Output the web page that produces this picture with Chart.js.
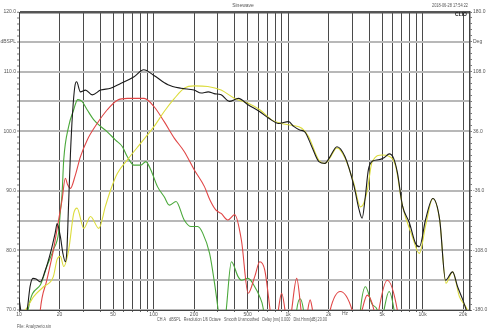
<!DOCTYPE html>
<html><head><meta charset="utf-8">
<script src="https://cdn.jsdelivr.net/npm/chart.js@4.4.1/dist/chart.umd.min.js"></script>
<style>html,body{margin:0;padding:0;background:#fff;overflow:hidden}#wrap{position:relative;width:488px;height:333px}</style>
</head><body><div id="wrap"><canvas id="c" width="488" height="333"></canvas></div>
<script>
// ---- data (frequency in Hz, level in dB SPL) ----
const blackF = [10, 10.3, 10.8, 11.5, 12.1, 12.7, 13.4, 14.4, 15.6, 17.1, 18.6, 19.2, 20.3, 21.2, 22.1, 22.7, 23.3, 24.1, 25.0, 26.0, 26.8, 28.6, 31.2, 35, 40.4, 47.9, 56.9, 71.2, 84.6, 100, 128, 160, 200, 226, 255, 282, 318, 366, 427, 507, 613, 716, 851, 1009, 1101, 1221, 1331, 1501, 1693, 1879, 2047, 2308, 2650, 3096, 3374, 3550, 3750, 3950, 4250, 4700, 5200, 5650, 6100, 6500, 7080, 7980, 8850, 9480, 10500, 11900, 13400, 14800, 16700, 18200, 19900, 20900, 22500];
const blackDb = [72, 70, 67.5, 70, 74, 75.3, 75.2, 74.7, 76.5, 79.5, 83, 84.5, 82.3, 79.5, 78.1, 80, 87, 96, 103, 107.5, 108.3, 106.6, 106.9, 106.1, 106.9, 107.2, 108.0, 109.1, 110.3, 109.4, 107.8, 107.2, 106.9, 106.4, 106.6, 106.3, 106.1, 105.0, 105.5, 104.4, 103.3, 102.2, 101.3, 101.6, 100.8, 100.2, 99.9, 97.4, 94.9, 94.6, 95.7, 97.4, 95.7, 90.7, 86.8, 85.4, 89, 93.5, 95, 95.2, 95.6, 96.2, 95.4, 93, 87.5, 84.6, 81.2, 80.6, 85.1, 88.7, 85.1, 75, 76.4, 73.9, 71.7, 70.3, 68];

const redF = [14.0, 14.4, 16.1, 18.0, 19.7, 20.9, 22.1, 23.0, 24.1, 26.2, 28.6, 32.1, 38.1, 45.3, 53.8, 63.9, 85.1, 101, 120, 143, 169, 201, 239, 262, 290, 318, 357, 401, 450, 505, 565, 616, 671, 732, 780, 846, 895, 948, 1000, 1064, 1159, 1248, 1320, 1401, 1459, 1520, 1800, 2056, 2443, 2990, 3250, 3550, 3873, 4345, 4550, 4731, 5458, 6486, 7000];
const redDb = [66, 70, 75, 80, 85.1, 88.5, 92.1, 91, 90.4, 92.6, 95.7, 98.5, 101.3, 103.6, 105.2, 105.5, 105.5, 104.1, 101.6, 98.8, 96.6, 93.5, 90.7, 88.5, 86.8, 86.2, 85.1, 86, 81.7, 72.8, 75.6, 78.1, 76.7, 70.3, 65, 70, 72.8, 70, 65, 70, 75.3, 70, 65, 70, 71.7, 70, 62, 70, 73.1, 70, 66, 70, 72.5, 70, 67, 70, 75, 70, 64];

const greenF = [11.4, 11.7, 14.4, 16.1, 18.0, 19.7, 20.3, 20.9, 21.5, 23.4, 25.5, 27.3, 29.4, 32.1, 36, 40.4, 45.3, 52.2, 58.7, 63.9, 71.6, 80.4, 87.6, 95.5, 107, 120, 131, 147, 169, 190, 213, 232, 261, 284, 301, 325, 347, 379, 425, 450, 505, 565, 616, 653, 690, 1100, 1159, 1228, 1301, 1380, 3300, 3450, 3760, 4200, 4603, 4900, 5164, 5626, 6136, 6600];
const greenDb = [66, 70, 74.2, 77.3, 80.1, 83, 86.5, 89.5, 95.2, 100.8, 103.6, 105.3, 105, 103.6, 101.9, 100.8, 99.9, 98.5, 97.4, 95.7, 94.3, 94.3, 94.9, 93.5, 90.7, 89, 87.6, 88.2, 85.1, 84, 84, 82.9, 79.5, 74.5, 70.3, 64, 70, 78.1, 75.6, 75, 75.3, 73.9, 72.2, 70.3, 65, 64, 70, 71.9, 70, 64, 64, 70, 73.9, 71, 70, 67, 70, 73.1, 70, 64];

const yellowF = [10, 11.4, 12.8, 15.2, 18.0, 19.2, 20.3, 21.5, 23.4, 25.5, 27.0, 30.3, 34.0, 39.2, 44.0, 47.9, 53.8, 63.9, 80.4, 101, 120, 143, 169, 201, 253, 318, 401, 505, 616, 754, 895, 1064, 1265, 1419, 1686, 1879, 2047, 2308, 2650, 3077, 3450, 3600, 3873, 4220, 5012, 5626, 6310, 7080, 8398, 9440, 10600, 11900, 13400, 14900, 16700, 18800, 21000, 22500];
const yellowDb = [69, 70.3, 72.2, 73.9, 75.6, 78.5, 79, 77.3, 80.1, 86.2, 87.1, 83.7, 85.7, 83.7, 87.5, 90.1, 92.9, 95.2, 98, 100.8, 103.3, 105.5, 107.2, 107.6, 107.5, 106.9, 105.5, 104.7, 103.6, 101.9, 101.3, 101.0, 100.5, 99.1, 95.2, 94.6, 95.5, 97.2, 95.5, 91.3, 87.3, 87.6, 90, 94.9, 96, 95.8, 94.1, 87.5, 82.3, 79.5, 84.5, 88.7, 85, 74.5, 76.4, 72.2, 70.5, 69];

// ---- axis ticks ----
const xGrid = [10,20,30,40,50,60,70,80,90,100,200,300,400,500,600,700,800,900,1000,2000,3000,4000,5000,6000,7000,8000,9000,10000,20000];
const xTickLabels = {10:'10',20:'20',50:'50',100:'100',200:'200',500:'500',1000:'1k',2000:'2k',5000:'5k',10000:'10k',20000:'20k'};
const dbTicks = [120,110,100,90,80,70];
const degTicks = [180,108,36,-36,-108,-180];
const titleText = 'Sinewave';
const dateText = '2018-06-28 17:54:22';
const infoText = 'CH A   dBSPL   Resolution 1/6 Octave   Smooth Unsmoothed   Delay [ms] 0.000   Dist.Hmm[dB] 20.00';
const fileText = 'File: Analyzerio.sin';

const pts = (f, d) => f.map((v, i) => ({x: v, y: d[i]}));
const FONT = '"Liberation Sans", Arial, sans-serif';

const textPlugin = {
  id: 'texts',
  afterDraw(chart) {
    const ctx = chart.ctx;
    ctx.save();
    ctx.fillStyle = '#555';
    ctx.textBaseline = 'middle';
    ctx.font = '5px ' + FONT;
    ctx.textAlign = 'center';
    ctx.fillText(titleText, 243, 6);
    ctx.fillText(dateText, 450, 6, 36);
    ctx.fillText('Hz', 345, 313.5);
    ctx.fillText(infoText, 242, 320, 170);
    ctx.textAlign = 'left';
    ctx.fillText(fileText, 17, 327, 34);
    // CLIO logo
    ctx.fillStyle = '#222';
    ctx.font = 'bold 5px ' + FONT;
    ctx.textAlign = 'center';
    ctx.fillText('CLIO', 461, 14.5);
    ctx.restore();
  }
};

const ds = (label, data, color, order) => ({
  label, data, borderColor: color, borderWidth: 1.1, pointRadius: 0,
  cubicInterpolationMode: 'monotone', order, fill: false
});

new Chart(document.getElementById('c'), {
  type: 'line',
  data: {
    datasets: [
      ds('Total', pts(blackF, blackDb), '#1c1c1c', 0),
      ds('Tweeter', pts(yellowF, yellowDb), '#dcdc3c', 1),
      ds('Mid', pts(redF, redDb), '#e04646', 2),
      ds('Woofer', pts(greenF, greenDb), '#4aa83a', 3)
    ]
  },
  options: {
    responsive: false, animation: false, devicePixelRatio: 1,
    layout: {padding: {top: 12, left: 0, right: 0, bottom: 0}},
    plugins: {legend: {display: false}, tooltip: {enabled: false}},
    scales: {
      x: {
        type: 'logarithmic', min: 10, max: 22500, position: 'bottom',
        afterBuildTicks: s => { s.ticks = xGrid.map(v => ({value: v})); },
        afterFit: s => { s.height = 23; },
        ticks: {autoSkip: false, maxRotation: 0, padding: 0, color: '#555',
          font: {size: 5, family: FONT},
          callback: v => xTickLabels[v] ?? ''},
        grid: {color: '#4a4a4a', lineWidth: 1, tickLength: 2, tickColor: '#666'},
        border: {display: true, color: '#444', width: 1}
      },
      y: {
        type: 'linear', position: 'left', min: 70, max: 120,
        afterBuildTicks: s => { const t = []; for (let v = 70; v <= 120; v++) t.push({value: v}); s.ticks = t; },
        afterFit: s => { s.width = 19; },
        ticks: {autoSkip: false, padding: 1, color: '#555', font: {size: 5, family: FONT},
          callback: v => dbTicks.includes(v) ? v.toFixed(1) : (v === 115 ? 'dBSPL' : '')},
        grid: {
          color: c => c.tick.value === 120 ? '#555' : (c.tick.value % 5 === 0 ? '#b8b8b8' : 'rgba(0,0,0,0)'),
          lineWidth: c => c.tick.value === 120 ? 2.5 : 2,
          tickColor: '#777', tickWidth: 1, tickLength: 2
        },
        border: {display: true, color: '#444', width: 1}
      },
      y2: {
        type: 'linear', position: 'right', min: -180, max: 180,
        afterBuildTicks: s => { const t = []; for (let i = 0; i <= 50; i++) t.push({value: Math.round((-180 + i * 7.2) * 10) / 10}); s.ticks = t; },
        afterFit: s => { s.width = 18; },
        ticks: {autoSkip: false, padding: 1, color: '#555', font: {size: 5, family: FONT},
          callback: v => degTicks.includes(v) ? v.toFixed(1) : (v === 144 ? 'Deg' : '')},
        grid: {drawOnChartArea: false, tickColor: '#777', tickWidth: 1, tickLength: 2},
        border: {display: true, color: '#444', width: 1.5}
      }
    }
  },
  plugins: [textPlugin]
});
</script></body></html>
